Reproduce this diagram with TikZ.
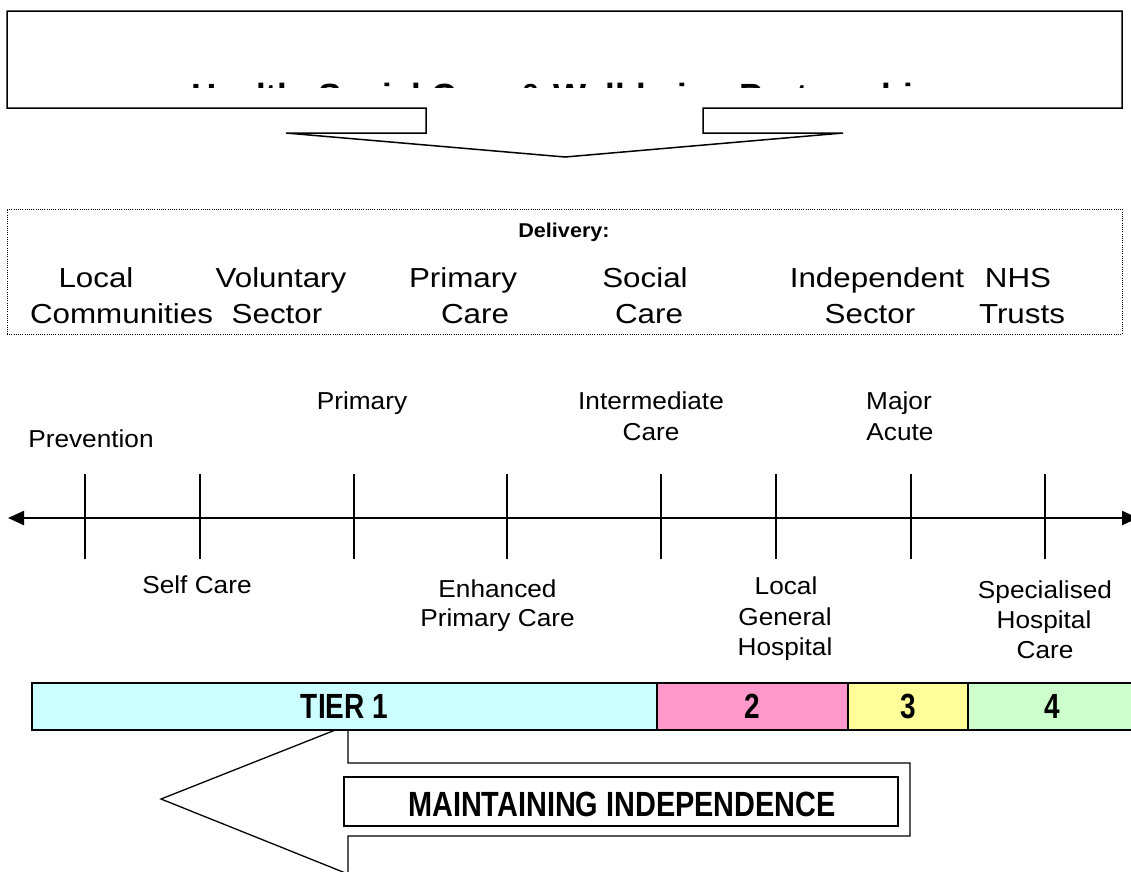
\documentclass[tikz,border=0pt]{standalone}
\usepackage{fontspec}
\setmainfont{Liberation Sans}
\newfontfamily\lblfont[FakeStretch=1.07]{Liberation Sans}
\newfontfamily\dlvfont[FakeStretch=1.14]{Liberation Sans}
\newfontfamily\headfont[FakeStretch=1.08]{Liberation Sans}
\newfontfamily\tierfont[FakeStretch=0.8]{Liberation Sans}
\newfontfamily\mottofont[FakeStretch=0.825]{Liberation Sans}
\usetikzlibrary{arrows.meta}

\definecolor{tierA}{HTML}{CCFFFF}
\definecolor{tierB}{HTML}{FF99CC}
\definecolor{tierC}{HTML}{FFFF99}
\definecolor{tierD}{HTML}{CCFFCC}

\tikzset{
  lbl/.style={font=\lblfont\fontsize{24.5}{24.5}\selectfont, inner sep=0pt, anchor=base},
  dlv/.style={font=\dlvfont\fontsize{27.5}{27.5}\selectfont, inner sep=0pt, anchor=base},
  tierbox/.style={draw=black, line width=2pt, inner sep=0pt, minimum height=47pt,
    font=\tierfont\bfseries\fontsize{35}{35}\selectfont},
  outline/.style={draw=black, line width=1.5pt, fill=white, line join=miter},
  tickline/.style={draw=black, line width=1.3pt},
  axisline/.style={draw=black, line width=2.3pt,
    {Triangle[length=16pt,width=14pt]}-{Triangle[length=16pt,width=14pt]}},
}

\begin{document}
\begin{tikzpicture}[x=1pt, y=-1pt]
  \useasboundingbox (0,0) rectangle (1131,871);
  \clip (0,0) rectangle (1131,871);

  % header box with its downward arrow
  \path[outline] (7,11) -- (1122,11) -- (1122,108) -- (703,108) -- (703,133)
    -- (843,133) -- (565,157) -- (286,133) -- (426,133) -- (426,108)
    -- (7,108) -- cycle;
  \begin{scope}
    \clip (7,80) rectangle (1122,87.5);
    \node[inner sep=0pt, anchor=base, font=\bfseries\fontsize{35}{35}\selectfont]
      (title) at (563,108) {Health, Social Care \& Well-being Partnership};
  \end{scope}

  % delivery panel
  \node[draw=black, line width=1pt, dash pattern=on 1pt off 1.2pt,
        minimum width=1115pt, minimum height=125pt, inner sep=0pt]
    (panel) at (564.5,271.5) {};
  \node[inner sep=0pt, anchor=base, font=\headfont\bfseries\fontsize{20}{20}\selectfont]
    (dhead) at (564,237) {Delivery:};
  \node[dlv] (d1a) at (96,287) {Local};
  \node[dlv] (d1b) at (121.5,323) {Communities};
  \node[dlv] (d2a) at (281,287) {Voluntary};
  \node[dlv] (d2b) at (277,323) {Sector};
  \node[dlv] (d3a) at (463,287) {Primary};
  \node[dlv] (d3b) at (475,323) {Care};
  \node[dlv] (d4a) at (645,287) {Social};
  \node[dlv] (d4b) at (649,323) {Care};
  \node[dlv] (d5a) at (877,287) {Independent};
  \node[dlv] (d5b) at (870,323) {Sector};
  \node[dlv] (d6a) at (1018,287) {NHS};
  \node[dlv] (d6b) at (1022,323) {Trusts};

  % care pathway axis
  \coordinate (axL) at (8,518);
  \coordinate (axR) at (1138,518);
  \draw[axisline] (axL) -- (axR);
  \foreach \x in {85,200,354,507,661,776,911,1045}
    \draw[tickline] (\x,474) -- (\x,559);

  \node[lbl] (prev)  at (91,447) {Prevention};
  \node[lbl] (prim)  at (362,409) {Primary};
  \node[lbl] (inta)  at (651,409) {Intermediate};
  \node[lbl] (intb)  at (651,440) {Care};
  \node[lbl] (maja)  at (899,409) {Major};
  \node[lbl] (majb)  at (900,440) {Acute};

  \node[lbl] (self)  at (197,593) {Self Care};
  \node[lbl] (enha)  at (497.5,597) {Enhanced};
  \node[lbl] (enhb)  at (497.5,626) {Primary Care};
  \node[lbl] (lgha)  at (786,594) {Local};
  \node[lbl] (lghb)  at (785,625) {General};
  \node[lbl] (lghc)  at (785,655) {Hospital};
  \node[lbl] (spha)  at (1045,598) {Specialised};
  \node[lbl] (sphb)  at (1044,628) {Hospital};
  \node[lbl] (sphc)  at (1045,658) {Care};

  % left-pointing arrow behind the tier bar
  \path[outline, line width=1.3pt] (161,799) -- (348,725) -- (348,763) -- (910,763)
    -- (910,836) -- (348,836) -- (348,874) -- cycle;
  \node[draw=black, line width=1.5pt, fill=white, inner sep=0pt,
        minimum width=554pt, minimum height=49pt]
    (maint) at (621,801.5) {};
  \node[inner sep=0pt, anchor=base, font=\mottofont\bfseries\fontsize{35}{35}\selectfont]
    (mainttext) at (622,816) {MAINTAINING INDEPENDENCE};

  % tier bar
  \node[tierbox, fill=tierA, minimum width=625pt] (tier1) at (344.5,706.5) {TIER 1};
  \node[tierbox, fill=tierB, minimum width=191pt] (tier2) at (752.5,706.5) {2};
  \node[tierbox, fill=tierC, minimum width=120pt] (tier3) at (908,706.5) {3};
  \node[tierbox, fill=tierD, minimum width=168pt] (tier4) at (1052,706.5) {4};
\end{tikzpicture}
\end{document}
